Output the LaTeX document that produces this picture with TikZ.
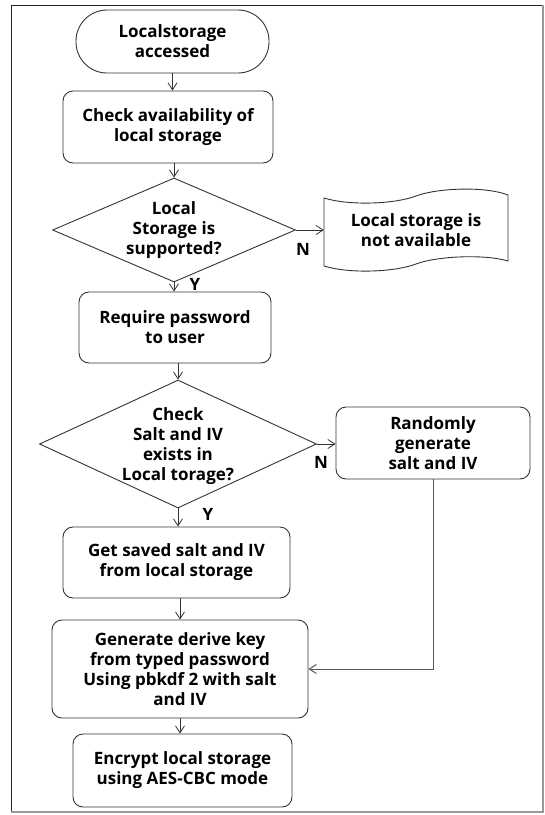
\documentclass[tikz,border=0pt]{standalone}
\usepackage{fontspec}
\setmainfont{Open Sans}
\usetikzlibrary{shapes.geometric,arrows.meta,calc}

\begin{document}
\begin{tikzpicture}[x=1pt,y=-1pt,
  every node/.style={font=\fontsize{17}{20}\selectfont\bfseries, align=center, inner sep=0pt},
  box/.style={draw=black!80, line width=0.9pt, rounded corners=10pt},
  decision/.style={draw=black!80, line width=0.9pt, diamond},
  arr/.style={draw=black!80, line width=0.8pt, -{Straight Barb[length=7pt,width=9pt]}},
  link/.style={draw=black!65, line width=1pt},
  tag/.style={font=\fontsize{17}{20}\selectfont\bfseries}]

\useasboundingbox (0,0) rectangle (545,815);

% outer frame
\draw[black!85, line width=1pt] (11,812) -- (11,5) -- (543,5);
\draw[black!40, line width=2pt] (543,5) -- (543,812) -- (11,812);

% main column
\node[box, rounded corners=31pt, minimum width=193pt, minimum height=63pt] (start) at (172.5,41.5) {Localstorage\\accessed};
\node[box, minimum width=210pt, minimum height=72pt] (avail) at (168,127) {Check availability of\\local storage};
\node[decision, minimum width=243pt, minimum height=104pt,
      label={center:{Local\\Storage is\\supported?}}] (supp) at (174,230) {};
\node[box, minimum width=192pt, minimum height=71pt] (pwd) at (175,327.5) {Require password\\to user};
\node[decision, minimum width=277pt, minimum height=128pt,
      label={[yshift=-2pt]center:{Check\\Salt and IV\\exists in\\Local torage?}}] (salt) at (178,444) {};
\node[box, minimum width=227pt, minimum height=71pt] (get) at (176.5,562.5) {Get saved salt and IV\\from local storage};
\node[box, minimum width=256pt, minimum height=98pt] (gen) at (180,669) {Generate derive key\\from typed password\\Using pbkdf 2 with salt\\and IV};
\node[box, minimum width=219pt, minimum height=73pt] (enc) at (182.5,770.5) {Encrypt local storage\\using AES-CBC mode};

% side branches
\node[minimum width=184pt, minimum height=68pt] (na) at (416,230) {Local storage is\\not available};
\draw[draw=black!80, line width=0.9pt]
  (324,198) .. controls (350,206) and (395,204) .. (416,196)
            .. controls (437,188) and (485,186) .. (508,195)
  -- (508,261)
            .. controls (485,254) and (437,256) .. (416,264)
            .. controls (395,272) and (350,274) .. (324,266)
  -- cycle;
\node[box, minimum width=194pt, minimum height=72pt] (rand) at (433,443) {Randomly\\generate\\salt and IV};

% connectors
\draw[arr] (start.south) -- (start.south |- avail.north);
\draw[arr] (supp.north |- avail.south) -- (supp.north);
\draw[arr] (supp.south) -- (supp.south |- pwd.north);
\draw[arr] (supp.east) -- (supp.east -| na.west);
\draw[arr] (salt.north |- pwd.south) -- (salt.north);
\draw[arr] (salt.south) -- (salt.south |- get.north);
\draw[arr] (salt.east) -- (salt.east -| rand.west);
\draw[arr] (gen.north |- get.south) -- (gen.north);
\draw[arr] (gen.south) -- (gen.south |- enc.north);
\draw[link, -{Straight Barb[length=7pt,width=9pt]}] (rand.south) |- (gen.east);

% branch labels
\node[tag] (n1) at (303,249) {N};
\node[tag] (y1) at (195,284) {Y};
\node[tag] (n2) at (321,462) {N};
\node[tag] (y2) at (208,514) {Y};

\end{tikzpicture}
\end{document}
